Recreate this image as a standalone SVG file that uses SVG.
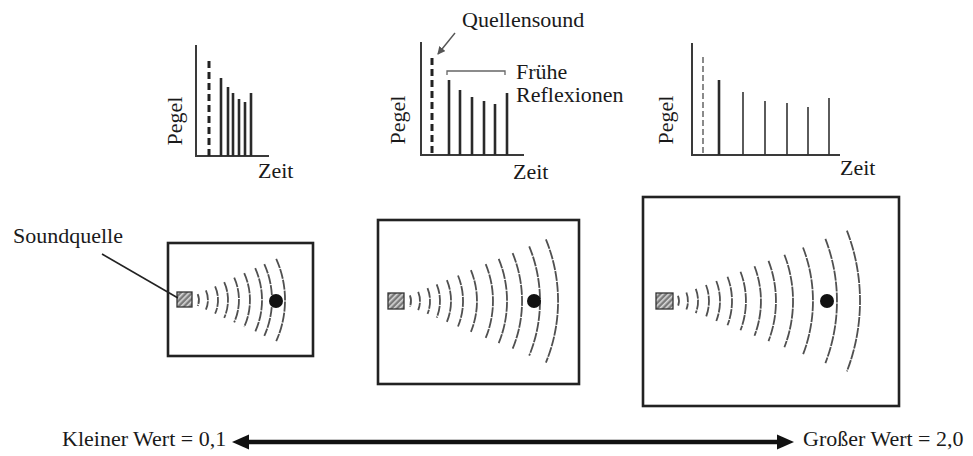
<svg xmlns="http://www.w3.org/2000/svg" width="973" height="456" viewBox="0 0 973 456">
<style>
text{font-family:'Liberation Serif','Times New Roman',serif;font-size:22px;fill:#1a1a1a}
.ax{stroke:#3a3a3a;stroke-width:2;fill:none}
.bar{stroke:#2a2a2a;stroke-width:2.6}
.thin{stroke:#333;stroke-width:1.6}
.dash{stroke:#222;stroke-width:3;stroke-dasharray:7 4}
.dashg{stroke:#8a8a8a;stroke-width:2;stroke-dasharray:6 3}
.room{fill:#fff;stroke:#222;stroke-width:2.6}
.src{fill:url(#hatch);stroke:#333;stroke-width:1.3}
.wave{fill:none;stroke:#505050;stroke-width:1.8;stroke-dasharray:10 1}
.dot{fill:#111}
.lead{stroke:#222;stroke-width:1.6;fill:none}
</style>
<defs>
<pattern id="hatch" width="4" height="4" patternUnits="userSpaceOnUse" patternTransform="rotate(45)">
<rect width="4" height="4" fill="#7a7a7a"/>
<rect width="1.6" height="4" fill="#d8d8d8"/>
</pattern>
<marker id="ah" markerWidth="8" markerHeight="8" refX="7" refY="4" orient="auto" markerUnits="userSpaceOnUse">
<path d="M0,0 L8,4 L0,8 Z" fill="#555"/>
</marker>
</defs>

<g id="chart1">
<path class="ax" d="M196,45 V156 H269"/>
<line class="dash" x1="209" y1="61" x2="209" y2="156"/>
<line class="bar" x1="221" y1="78" x2="221" y2="156"/>
<line class="bar" x1="228" y1="87" x2="228" y2="156"/>
<line class="bar" x1="233" y1="93" x2="233" y2="156"/>
<line class="bar" x1="239" y1="99" x2="239" y2="156"/>
<line class="bar" x1="245" y1="102" x2="245" y2="156"/>
<line class="bar" x1="251" y1="93" x2="251" y2="156"/>
<text transform="translate(182,121) rotate(-90)" text-anchor="middle">Pegel</text>
<text x="258" y="178">Zeit</text>
</g>

<g id="chart2">
<path class="ax" d="M421,42 V155 H524"/>
<line class="dash" x1="432" y1="58" x2="432" y2="155"/>
<line class="bar" x1="449" y1="80" x2="449" y2="155"/>
<line class="bar" x1="460" y1="90" x2="460" y2="155"/>
<line class="bar" x1="472" y1="97" x2="472" y2="155"/>
<line class="bar" x1="484" y1="101" x2="484" y2="155"/>
<line class="bar" x1="495" y1="104" x2="495" y2="155"/>
<line class="bar" x1="507" y1="93" x2="507" y2="155"/>
<text transform="translate(405,120) rotate(-90)" text-anchor="middle">Pegel</text>
<text x="513" y="179">Zeit</text>
<path d="M447,75 V71 H505 V75" fill="none" stroke="#666" stroke-width="1.3"/>
</g>

<g id="chart3">
<path class="ax" d="M692,43 V155 H840"/>
<line class="dashg" x1="703" y1="57" x2="703" y2="155"/>
<line class="bar" x1="719" y1="80" x2="719" y2="155" stroke-width="3.2"/>
<line class="thin" x1="743" y1="92" x2="743" y2="155"/>
<line class="thin" x1="765" y1="101" x2="765" y2="155"/>
<line class="thin" x1="787" y1="103" x2="787" y2="155"/>
<line class="thin" x1="808" y1="107" x2="808" y2="155"/>
<line class="thin" x1="829" y1="98" x2="829" y2="155"/>
<text transform="translate(673,120) rotate(-90)" text-anchor="middle">Pegel</text>
<text x="840" y="175">Zeit</text>
</g>

<g id="label-quellensound">
<text x="462" y="27">Quellensound</text>
</g>
<g id="label-fruehe">
<text x="516" y="79">Frühe</text>
<text x="516" y="102">Reflexionen</text>
</g>
<g id="label-soundquelle">
<text x="13" y="243">Soundquelle</text>
</g>

<g id="room1">
<rect class="room" x="168" y="243" width="145" height="113"/>
<g class="wave">
<path d="M197.7,294.1 A14.5,14.5 0 0 1 197.7,305.9"/>
<path d="M205.9,290.4 A23.5,23.5 0 0 1 205.9,309.6"/>
<path d="M215.1,286.3 A33.5,33.5 0 0 1 215.1,313.7"/>
<path d="M224.2,282.2 A43.5,43.5 0 0 1 224.2,317.8"/>
<path d="M234.2,277.7 A54.5,54.5 0 0 1 234.2,322.3"/>
<path d="M244.2,273.1 A65.5,65.5 0 0 1 244.2,326.9"/>
<path d="M255.2,268.2 A77.5,77.5 0 0 1 255.2,331.8"/>
<path d="M264.3,264.1 A87.5,87.5 0 0 1 264.3,335.9"/>
<path d="M276.2,258.8 A100.5,100.5 0 0 1 276.2,341.2"/>
</g>
<rect class="src" x="177" y="292" width="15" height="15"/>
<circle class="dot" cx="276" cy="301" r="7"/>
</g>

<g id="room2">
<rect class="room" x="378" y="220" width="201" height="164"/>
<g class="wave">
<path d="M409.9,295.3 A15,15 0 0 1 409.9,306.7"/>
<path d="M418.2,291.9 A24,24 0 0 1 418.2,310.1"/>
<path d="M427.5,288.1 A34,34 0 0 1 427.5,313.9"/>
<path d="M436.7,284.3 A44,44 0 0 1 436.7,317.7"/>
<path d="M446.9,280.1 A55,55 0 0 1 446.9,321.9"/>
<path d="M458,275.5 A67,67 0 0 1 458,326.5"/>
<path d="M470.9,270.2 A81,81 0 0 1 470.9,331.8"/>
<path d="M485.7,264.1 A97,97 0 0 1 485.7,337.9"/>
<path d="M498.7,258.8 A111,111 0 0 1 498.7,343.2"/>
<path d="M512.6,253.1 A126,126 0 0 1 512.6,348.9"/>
<path d="M529.2,246.3 A144,144 0 0 1 529.2,355.7"/>
<path d="M545.9,239.4 A162,162 0 0 1 545.9,362.6"/>
</g>
<rect class="src" x="388" y="293" width="16" height="16"/>
<circle class="dot" cx="534" cy="301" r="7"/>
</g>

<g id="room3">
<rect class="room" x="643" y="197" width="256" height="209"/>
<g class="wave">
<path d="M678,295.8 A14.5,14.5 0 0 1 678,306.2"/>
<path d="M686.4,292.5 A23.5,23.5 0 0 1 686.4,309.5"/>
<path d="M695.8,288.9 A33.5,33.5 0 0 1 695.8,313.1"/>
<path d="M706,285 A44.5,44.5 0 0 1 706,317"/>
<path d="M716.3,281 A55.5,55.5 0 0 1 716.3,321"/>
<path d="M727.5,276.7 A67.5,67.5 0 0 1 727.5,325.3"/>
<path d="M740.5,271.7 A81.5,81.5 0 0 1 740.5,330.3"/>
<path d="M754.5,266.3 A96.5,96.5 0 0 1 754.5,335.7"/>
<path d="M768.5,260.9 A111.5,111.5 0 0 1 768.5,341.1"/>
<path d="M784.4,254.7 A128.5,128.5 0 0 1 784.4,347.3"/>
<path d="M803,247.5 A148.5,148.5 0 0 1 803,354.5"/>
<path d="M825.4,238.9 A172.5,172.5 0 0 1 825.4,363.1"/>
<path d="M846.9,230.6 A195.5,195.5 0 0 1 846.9,371.4"/>
</g>
<rect class="src" x="656" y="293" width="17" height="16"/>
<circle class="dot" cx="827" cy="301" r="7"/>
</g>

<g id="label-klein">
<text x="62" y="446">Kleiner Wert = 0,1</text>
</g>
<g id="label-gross">
<text x="803" y="446">Großer Wert = 2,0</text>
</g>

<g id="connectors">
<line class="lead" x1="102" y1="254" x2="178" y2="298"/>
<line x1="455" y1="33" x2="438" y2="54" stroke="#555" stroke-width="1.4" marker-end="url(#ah)"/>
<line x1="244" y1="442" x2="782" y2="442" stroke="#111" stroke-width="4.5"/>
<path d="M232,442 L249,434.5 L249,449.5 Z" fill="#111"/>
<path d="M794,442 L777,434.5 L777,449.5 Z" fill="#111"/>
</g>
</svg>
